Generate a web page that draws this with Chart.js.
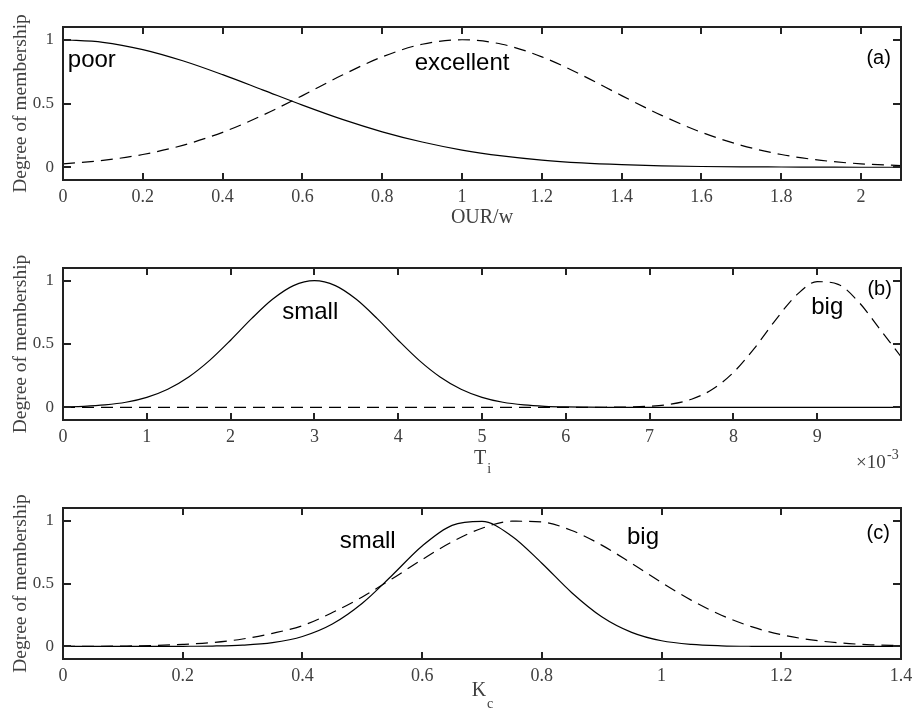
<!DOCTYPE html>
<html>
<head>
<meta charset="utf-8">
<script src="https://cdn.jsdelivr.net/npm/chart.js@4.4.1/dist/chart.umd.min.js"></script>
<style>
  body { margin: 0; background: #fff; }
  canvas { position: absolute; left: 0; }
</style>
</head>
<body>
<canvas id="chartA" width="914" height="238" style="top:0px"></canvas>
<canvas id="chartB" width="914" height="238" style="top:238px"></canvas>
<canvas id="chartC" width="914" height="237" style="top:476px"></canvas>
<script>
// (a) OUR/w
const xA = [0, 0.1, 0.2, 0.3, 0.4, 0.5, 0.6, 0.7, 0.8, 0.9, 1, 1.1, 1.2, 1.3, 1.4, 1.5, 1.6, 1.7, 1.8, 1.9, 2, 2.1];
const poorA = [1, 0.98, 0.923, 0.835, 0.726, 0.607, 0.487, 0.375, 0.278, 0.198, 0.135, 0.089, 0.056, 0.034, 0.02, 0.011, 0.006, 0.003, 0.002, 0.001, 0, 0];
const excellentA = [0.027, 0.054, 0.1, 0.172, 0.274, 0.407, 0.562, 0.723, 0.866, 0.965, 1, 0.965, 0.866, 0.723, 0.562, 0.407, 0.274, 0.172, 0.1, 0.054, 0.027, 0.013];
const xTicksA = [0, 0.2, 0.4, 0.6, 0.8, 1, 1.2, 1.4, 1.6, 1.8, 2];

// (b) Ti, in units of 1e-3
const xB = [0, 0.25, 0.5, 0.75, 1, 1.25, 1.5, 1.75, 2, 2.25, 2.5, 2.75, 3, 3.25, 3.5, 3.75, 4, 4.25, 4.5, 4.75, 5,
            5.25, 5.5, 5.75, 6, 6.25, 6.5, 6.75, 7, 7.25, 7.5, 7.75, 8, 8.25, 8.5, 8.75, 9, 9.25, 9.5, 9.75, 10];
const smallB = [0.003, 0.008, 0.019, 0.04, 0.079, 0.143, 0.24, 0.371, 0.53, 0.7, 0.853, 0.961, 1, 0.961, 0.853, 0.7, 0.53, 0.371, 0.24, 0.143, 0.079,
                0.04, 0.019, 0.008, 0.003, 0.001, 0, 0, 0, 0, 0, 0, 0, 0, 0, 0, 0, 0, 0, 0, 0];
const bigB = [0, 0, 0, 0, 0, 0, 0, 0, 0, 0, 0, 0, 0, 0, 0, 0, 0, 0, 0, 0, 0,
              0, 0, 0, 0, 0, 0.001, 0.003, 0.009, 0.025, 0.064, 0.142, 0.275, 0.466, 0.687, 0.884, 0.992, 0.971, 0.828, 0.616, 0.4];
const xTicksB = [0, 1, 2, 3, 4, 5, 6, 7, 8, 9];

// (c) Kc
const xC = [0, 0.05, 0.1, 0.15, 0.2, 0.25, 0.3, 0.35, 0.4, 0.45, 0.5, 0.55, 0.6, 0.65, 0.7, 0.75, 0.8, 0.85, 0.9, 0.95, 1,
            1.05, 1.1, 1.15, 1.2, 1.25, 1.3, 1.35, 1.4];
const smallC = [0, 0, 0, 0, 0.001, 0.003, 0.01, 0.03, 0.079, 0.178, 0.343, 0.566, 0.798, 0.962, 0.993, 0.876, 0.661, 0.427, 0.236, 0.112, 0.045,
                0.016, 0.005, 0.001, 0, 0, 0, 0, 0];
const bigC = [0.001, 0.001, 0.003, 0.007, 0.016, 0.031, 0.059, 0.104, 0.165, 0.269, 0.393, 0.538, 0.69, 0.831, 0.939, 0.995, 0.989, 0.921, 0.805, 0.66, 0.508,
              0.366, 0.248, 0.157, 0.093, 0.052, 0.027, 0.013, 0.006];
const xTicksC = [0, 0.2, 0.4, 0.6, 0.8, 1, 1.2, 1.4];

const yTicks = [0, 0.5, 1];

const SERIF = '"Liberation Serif", "Times New Roman", serif';
const SANS = '"Liberation Sans", Arial, sans-serif';
const GREY = '#404040';

const fmt = v => String(Number(v.toFixed(2)));

// box, inward ticks, labels and axis titles
const framePlugin = {
    id: 'frame',
    afterDraw(chart, args, opts) {
        const { ctx, chartArea: a, scales: { x, y } } = chart;
        ctx.save();
        ctx.strokeStyle = '#222';
        ctx.lineWidth = 2;
        ctx.strokeRect(a.left, a.top, a.right - a.left, a.bottom - a.top);
        ctx.beginPath();
        x.ticks.forEach(t => {
            const px = Math.round(x.getPixelForValue(t.value));
            ctx.moveTo(px, a.bottom); ctx.lineTo(px, a.bottom - 7);
            ctx.moveTo(px, a.top); ctx.lineTo(px, a.top + 7);
        });
        y.ticks.forEach(t => {
            const py = Math.round(y.getPixelForValue(t.value));
            ctx.moveTo(a.left, py); ctx.lineTo(a.left + 8, py);
            ctx.moveTo(a.right, py); ctx.lineTo(a.right - 8, py);
        });
        ctx.stroke();

        // curve labels
        ctx.fillStyle = '#000';
        opts.notes.forEach(n => {
            ctx.font = n.size + 'px ' + SANS;
            ctx.textAlign = n.align || 'center';
            ctx.textBaseline = n.baseline || 'alphabetic';
            ctx.fillText(n.text, x.getPixelForValue(n.x), y.getPixelForValue(n.y));
        });

        // y title
        ctx.fillStyle = GREY;
        ctx.save();
        ctx.translate(21, (a.top + a.bottom) / 2);
        ctx.rotate(-Math.PI / 2);
        ctx.font = '19.5px ' + SERIF;
        ctx.textAlign = 'center';
        ctx.textBaseline = 'middle';
        ctx.fillText('Degree of membership', 0, 0);
        ctx.restore();

        // x title (with optional subscript)
        ctx.textAlign = 'left';
        ctx.textBaseline = 'alphabetic';
        const t = opts.xTitle;
        ctx.font = '20px ' + SERIF;
        const w1 = ctx.measureText(t.main).width;
        let w2 = 0;
        if (t.sub) { ctx.font = '14px ' + SERIF; w2 = ctx.measureText(t.sub).width; }
        const cx = (a.left + a.right) / 2 - (w1 + w2) / 2;
        ctx.font = '20px ' + SERIF;
        ctx.fillText(t.main, cx, a.bottom + t.dy);
        if (t.sub) {
            ctx.font = '14px ' + SERIF;
            ctx.fillText(t.sub, cx + w1 + 1, a.bottom + t.subDy);
        }

        // exponent note
        if (opts.exponent) {
            ctx.font = '19px ' + SERIF;
            ctx.fillText('\u00d710', a.right - 45, a.bottom + 48);
            ctx.font = '14px ' + SERIF;
            ctx.fillText('-3', a.right - 14, a.bottom + 39);
        }
        ctx.restore();
    }
};

function makeChart(id, cfg) {
    const line = (xs, ys, dashed) => ({
        data: xs.map((x, i) => ({ x: x, y: ys[i] })),
        borderColor: '#000',
        borderWidth: 1.2,
        borderDash: dashed ? [12, 7] : [],
        pointRadius: 0,
        cubicInterpolationMode: 'monotone',
        fill: false
    });
    const ctx = document.getElementById(id).getContext('2d');
    const h = ctx.canvas.height;
    return new Chart(ctx, {
        type: 'line',
        data: { datasets: [line(cfg.xs, cfg.solid, false), line(cfg.xs, cfg.dashed, true)] },
        options: {
            responsive: false,
            animation: false,
            devicePixelRatio: 1,
            layout: { padding: { top: cfg.top, right: 13, left: 0, bottom: 0 }, autoPadding: false },
            plugins: {
                legend: { display: false },
                tooltip: { enabled: false },
                frame: { notes: cfg.notes, xTitle: cfg.xTitle, exponent: cfg.exponent }
            },
            scales: {
                x: {
                    type: 'linear',
                    min: 0,
                    max: cfg.xMax,
                    grid: { display: false, drawTicks: false },
                    border: { display: false },
                    afterBuildTicks: s => { s.ticks = cfg.xTicks.map(v => ({ value: v })); },
                    afterFit: s => {
                        s.height = h - cfg.bottom;
                        s.paddingLeft = 0; s.paddingRight = 0;
                    },
                    ticks: {
                        autoSkip: false, maxRotation: 0, padding: 6, color: GREY,
                        font: { family: SERIF, size: 18 },
                        callback: v => fmt(v)
                    }
                },
                y: {
                    min: -0.1,
                    max: 1.1,
                    grid: { display: false, drawTicks: false },
                    border: { display: false },
                    afterBuildTicks: s => { s.ticks = yTicks.map(v => ({ value: v })); },
                    afterFit: s => {
                        s.width = 63;
                        s.paddingTop = 0; s.paddingBottom = 0;
                    },
                    ticks: {
                        padding: 9, color: GREY,
                        font: { family: SERIF, size: 17 },
                        callback: v => fmt(v)
                    }
                }
            }
        },
        plugins: [framePlugin]
    });
}

makeChart('chartA', {
    xs: xA, solid: poorA, dashed: excellentA, xMax: 2.1, xTicks: xTicksA,
    top: 27, bottom: 180,
    notes: [
        { text: 'poor', x: 0.012, y: 0.79, size: 24, align: 'left' },
        { text: 'excellent', x: 1.0, y: 0.765, size: 24 },
        { text: '(a)', x: 2.044, y: 0.85, size: 20, baseline: 'middle' }
    ],
    xTitle: { main: 'OUR/w', dy: 43 }
});

makeChart('chartB', {
    xs: xB, solid: smallB, dashed: bigB, xMax: 10, xTicks: xTicksB,
    top: 30, bottom: 182,
    notes: [
        { text: 'small', x: 2.95, y: 0.7, size: 24 },
        { text: 'big', x: 9.12, y: 0.733, size: 24 },
        { text: '(b)', x: 9.745, y: 0.927, size: 20, baseline: 'middle' }
    ],
    xTitle: { main: 'T', sub: 'i', dy: 44, subDy: 53 },
    exponent: true
});

makeChart('chartC', {
    xs: xC, solid: smallC, dashed: bigC, xMax: 1.4, xTicks: xTicksC,
    top: 32, bottom: 183,
    notes: [
        { text: 'small', x: 0.509, y: 0.78, size: 24 },
        { text: 'big', x: 0.969, y: 0.817, size: 24 },
        { text: '(c)', x: 1.362, y: 0.9, size: 20, baseline: 'middle' }
    ],
    xTitle: { main: 'K', sub: 'c', dy: 37, subDy: 49 }
});
</script>
</body>
</html>
